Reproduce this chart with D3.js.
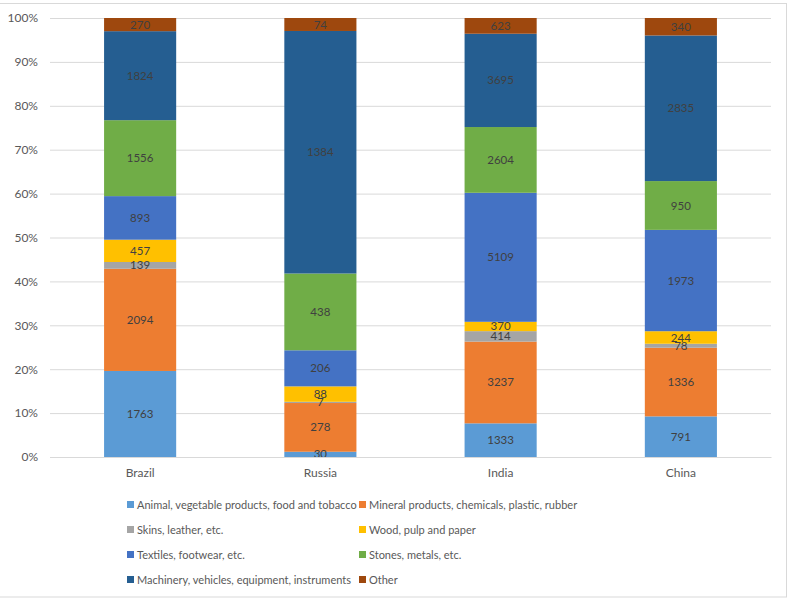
<!DOCTYPE html>
<html><head><meta charset="utf-8">
<script src="https://cdn.jsdelivr.net/npm/d3@7"></script>
<style>body{margin:0;background:#fff}svg{display:block}</style>
</head><body>
<svg id="chart" width="789" height="600"></svg>
<script>
const categories = ["Brazil", "Russia", "India", "China"];
const seriesNames = [
  "Animal, vegetable products, food and tobacco",
  "Mineral products, chemicals, plastic, rubber",
  "Skins, leather, etc.",
  "Wood, pulp and paper",
  "Textiles, footwear, etc.",
  "Stones, metals, etc.",
  "Machinery, vehicles, equipment, instruments",
  "Other"
];
const animal    = [1763, 30, 1333, 791];
const mineral   = [2094, 278, 3237, 1336];
const skins     = [139, 7, 414, 78];
const wood      = [457, 88, 370, 244];
const textiles  = [893, 206, 5109, 1973];
const stones    = [1556, 438, 2604, 950];
const machinery = [1824, 1384, 3695, 2835];
const other     = [270, 74, 623, 340];
const colors = ["#5B9BD5", "#ED7D31", "#A5A5A5", "#FFC000", "#4472C4", "#70AD47", "#255E91", "#9E480E"];
const yTicks = [0, 0.1, 0.2, 0.3, 0.4, 0.5, 0.6, 0.7, 0.8, 0.9, 1.0];

const seriesValues = [animal, mineral, skins, wood, textiles, stones, machinery, other];
const rows = categories.map((c, i) => {
  const r = {cat: c};
  seriesNames.forEach((s, k) => r[s] = seriesValues[k][i]);
  return r;
});
const stack = d3.stack().keys(seriesNames).offset(d3.stackOffsetExpand);
const layers = stack(rows);

const svg = d3.select("#chart");
const font = "Lato, 'Open Sans', sans-serif";

// outer frame
svg.append("rect").attr("x", -1).attr("y", 3.5).attr("width", 787.5).attr("height", 593.5)
  .attr("fill", "none").attr("stroke", "#d9d9d9").attr("stroke-width", 1);

const x = d3.scaleBand().domain(categories).range([50, 771]).paddingInner(0.6).paddingOuter(0.3);
const y = d3.scaleLinear().domain([0, 1]).range([457, 18]);

// gridlines
const yAxis = d3.axisLeft(y).tickValues(yTicks).tickFormat(d3.format(".0%")).tickSize(-721).tickPadding(12);
const gy = svg.append("g").attr("transform", "translate(50,0)").call(yAxis);
gy.select(".domain").remove();
gy.selectAll(".tick line").attr("stroke", "#d9d9d9").attr("stroke-width", 1);
gy.selectAll(".tick text").attr("fill", "#595959").style("font-family", font).style("font-size", "12px");

// bars
const g = svg.append("g");
layers.forEach((layer, k) => {
  g.selectAll(null).data(layer).enter().append("rect")
    .attr("x", d => x(d.data.cat))
    .attr("width", x.bandwidth())
    .attr("y", d => y(d[1]))
    .attr("height", d => y(d[0]) - y(d[1]))
    .attr("fill", colors[k]);
});
// labels
layers.forEach((layer, k) => {
  g.selectAll(null).data(layer).enter().append("text")
    .attr("x", d => x(d.data.cat) + x.bandwidth() / 2)
    .attr("y", d => (y(d[0]) + y(d[1])) / 2)
    .attr("dy", "0.35em")
    .attr("text-anchor", "middle")
    .attr("fill", "#404040")
    .style("font-family", font).style("font-size", "11.5px")
    .text(d => d.data[layer.key]);
});

// x axis
const xAxis = d3.axisBottom(x).tickSize(0).tickPadding(11);
const gx = svg.append("g").attr("transform", "translate(0,457)").call(xAxis);
gx.select(".domain").attr("stroke", "#d9d9d9");
gx.selectAll(".tick text").attr("fill", "#595959").style("font-family", font).style("font-size", "12px");

// legend
const legend = svg.append("g");
seriesNames.forEach((s, k) => {
  const col = k % 2, row = Math.floor(k / 2);
  const lx = col === 0 ? 127 : 359;
  const ly = 505 + row * 25;
  legend.append("rect").attr("x", lx).attr("y", ly - 4).attr("width", 7).attr("height", 7).attr("fill", colors[k]);
  legend.append("text").attr("x", lx + 10).attr("y", ly).attr("dy", "0.35em")
    .attr("fill", "#595959").style("font-family", font).style("font-size", "11px").text(s);
});
</script>
</body></html>
